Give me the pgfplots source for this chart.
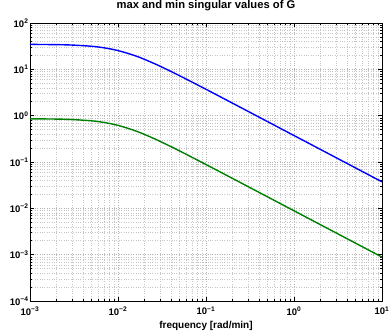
\documentclass[border=0pt]{standalone}
\usepackage{pgfplots}
\pgfplotsset{compat=1.18}
\usepackage{fontspec}
\setmainfont{Liberation Sans}
\definecolor{mblue}{rgb}{0,0,1}
\definecolor{mgreen}{rgb}{0,0.5,0}
\newcommand{\tl}[1]{10\textsuperscript{#1}}
\begin{document}
\begin{tikzpicture}[x=1pt,y=1pt]
\path[use as bounding box] (-30,-29) rectangle (359,301);
\begin{axis}[
  at={(0,0)}, anchor=south west,
  scale only axis, width=352pt, height=278pt,
  xmode=log, ymode=log,
  xmin=1e-3, xmax=1e1, ymin=1e-4, ymax=1e2,
  xtick={1e-3,1e-2,1e-1,1e0,1e1},
  xticklabels={\tl{−3},\tl{−2},\tl{−1},\tl{0},\tl{1}},
  ytick={1e-4,1e-3,1e-2,1e-1,1e0,1e1,1e2},
  yticklabels={\tl{−4},\tl{−3},\tl{−2},\tl{−1},\tl{0},\tl{1},\tl{2}},
  tick label style={font=\bfseries\fontsize{9.5}{11}\selectfont},
  xticklabel style={yshift=-2pt},
  yticklabel style={xshift=2pt},
  tick align=inside,
  major tick length=4pt, minor tick length=2pt,
  tick style={black, line width=0.5pt},
  grid=both,
  major grid style={gray!60, dotted, line width=0.5pt},
  minor grid style={gray!45, dotted, line width=0.5pt},
  axis line style={black, line width=0.8pt},
  title={max and min singular values of G},
  title style={font=\bfseries\fontsize{11.2}{13}\selectfont, at={(0.5,1)}, anchor=base, yshift=9pt},
  xlabel={frequency [rad/min]},
  xlabel style={font=\bfseries\fontsize{10}{12}\selectfont, at={(0.5,0)}, anchor=base, yshift=-27pt},
  clip=true,
]
\addplot[mblue, line width=1.4pt, smooth] coordinates {
(0.001,34.551) (0.002,34.115) (0.003,33.424) (0.005,31.465) (0.007,29.081)
(0.01,25.410) (0.015,20.217) (0.02,16.432) (0.03,11.708) (0.05,7.2956)
(0.1,3.7098) (0.2,1.8629) (1,0.37310) (10,0.037312)
};
\addplot[mgreen, line width=1.4pt, smooth] coordinates {
(0.001,0.85598) (0.002,0.84426) (0.003,0.82575) (0.005,0.77379) (0.007,0.71149)
(0.01,0.61730) (0.015,0.48711) (0.02,0.39403) (0.03,0.27949) (0.05,0.17367)
(0.1,0.088192) (0.2,0.044271) (1,0.0088655) (10,0.00088660)
};
\end{axis}
\end{tikzpicture}
\end{document}
